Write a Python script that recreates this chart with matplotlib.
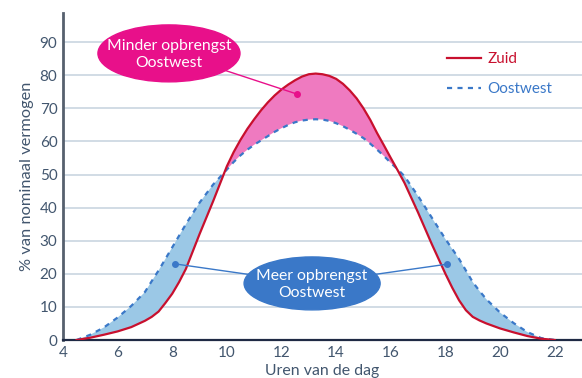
import matplotlib
matplotlib.use("Agg")
import matplotlib.pyplot as plt
from matplotlib.patches import Ellipse

plt.rcParams['font.family'] = ['Lato', 'DejaVu Sans']

# uren van de dag en opbrengst (% van nominaal vermogen)
uren = [4.5, 5, 5.5, 6, 6.5, 7, 7.25, 7.5, 7.75, 8, 8.25, 8.5, 9, 9.5,
        10, 10.25, 10.5, 10.75, 11, 11.25, 11.5, 11.75, 12, 12.25, 12.5, 12.75,
        13, 13.25, 13.5, 13.75, 14, 14.25, 14.5, 14.75, 15, 15.25, 15.5, 15.75,
        16, 16.25, 16.5, 17, 17.5, 18, 18.25, 18.5, 18.75, 19, 19.25, 19.5,
        20, 20.5, 21, 21.5, 22]
zuid = [0, 0.7, 1.6, 2.6, 3.9, 5.8, 7.0, 8.6, 11.2, 14, 17.5, 21.5, 32, 42,
        52.5, 56.8, 60.5, 63.8, 66.7, 69.4, 71.8, 73.9, 75.7, 77.2, 78.5, 79.6,
        80.3, 80.5, 80.3, 79.8, 78.9, 77.4, 75.4, 73, 70, 66.5, 62.5, 58.8,
        55, 51.3, 47.5, 38.5, 29, 20, 15.8, 12, 9.0, 7.0, 5.9, 5.0,
        3.5, 2.3, 1.2, 0.4, 0]
oostwest = [0, 1.6, 3.8, 6.8, 10.3, 14.5, 17.8, 21, 24.5, 28, 31.5, 35, 41.5, 47,
            51.5, 53.8, 55.8, 57.5, 59, 60.3, 61.6, 62.9, 64, 65, 65.8, 66.3,
            66.6, 66.7, 66.6, 66.2, 65.5, 64.6, 63.5, 62.3, 61, 59.3, 57.5, 55.6,
            53.5, 51.6, 49.5, 43.5, 37, 30.5, 27.5, 24.5, 21, 17.5, 14.8, 12.3,
            8.3, 5.1, 2.4, 0.6, 0]

xticks = [4, 6, 8, 10, 12, 14, 16, 18, 20, 22]
yticks = [0, 10, 20, 30, 40, 50, 60, 70, 80, 90]

rood = '#c8102e'
blauw = '#3a78c8'
magenta = '#e8108a'
tekst = '#42566e'

fig = plt.figure(figsize=(5.82, 3.78), dpi=100)
ax = fig.add_axes([0.1082, 0.1005, 0.8918, 0.8651])

# gebieden tussen de curves
ax.fill_between(uren, zuid, oostwest, where=[z >= o for z, o in zip(zuid, oostwest)],
                interpolate=True, color='#ef7ac0', lw=0, zorder=2)
ax.fill_between(uren, zuid, oostwest, where=[z <= o for z, o in zip(zuid, oostwest)],
                interpolate=True, color='#9bc8e6', lw=0, zorder=2)

ax.plot(uren, zuid, color=rood, lw=1.6, label='Zuid', zorder=4)
ax.plot(uren, oostwest, color=blauw, lw=1.6, dashes=(2.3, 2.4), label='Oostwest', zorder=3)

ax.set_xlim(4, 23)
ax.set_ylim(0, 98.8)
ax.set_xticks(xticks)
ax.set_yticks(yticks)
ax.tick_params(length=0, labelsize=11, labelcolor=tekst)
ax.tick_params(axis='x', pad=4)
ax.tick_params(axis='y', pad=4)
ax.grid(axis='y', color='#c5d2de', lw=1.1, zorder=0)
ax.set_axisbelow(True)

for s in ['top', 'right']:
    ax.spines[s].set_visible(False)
ax.spines['left'].set_color('#56606e')
ax.spines['left'].set_linewidth(2)
ax.spines['bottom'].set_color('#1f2a44')
ax.spines['bottom'].set_linewidth(1.6)

ax.set_xlabel('Uren van de dag', fontsize=11.4, color=tekst, labelpad=3)
ax.set_ylabel('% van nominaal vermogen', fontsize=11.8, color=tekst, labelpad=4)

leg = ax.legend(loc='upper left', bbox_to_anchor=(0.74, 0.88), frameon=False,
                fontsize=11, handlelength=2.2, handletextpad=0.45,
                labelspacing=1.05, borderpad=0, borderaxespad=0)
for t, c in zip(leg.get_texts(), [rood, blauw]):
    t.set_color(c)

# ballon: minder opbrengst
ax.plot([9.0, 12.57], [84, 74.3], color=magenta, lw=1, zorder=5)
ax.plot([12.57], [74.3], 'o', color=magenta, ms=4, zorder=6)
ax.add_patch(Ellipse((7.88, 86.6), 5.2, 17.2, color=magenta, zorder=7))
ax.text(7.88, 86.2, 'Minder opbrengst\nOostwest', color='white', fontsize=11.3,
        ha='center', va='center', linespacing=1.25, zorder=8)

# ballon: meer opbrengst
ax.plot([13.1, 8.1], [17.1, 23], color=blauw, lw=1, zorder=5)
ax.plot([13.1, 18.05], [17.1, 22.9], color=blauw, lw=1, zorder=5)
ax.plot([8.1, 18.05], [23, 22.9], 'o', color=blauw, ms=4, zorder=6)
ax.add_patch(Ellipse((13.12, 17.1), 4.98, 16, color=blauw, zorder=7))
ax.text(13.12, 16.7, 'Meer opbrengst\nOostwest', color='white', fontsize=11.3,
        ha='center', va='center', linespacing=1.25, zorder=8)

fig.savefig('out.png', dpi=100)
